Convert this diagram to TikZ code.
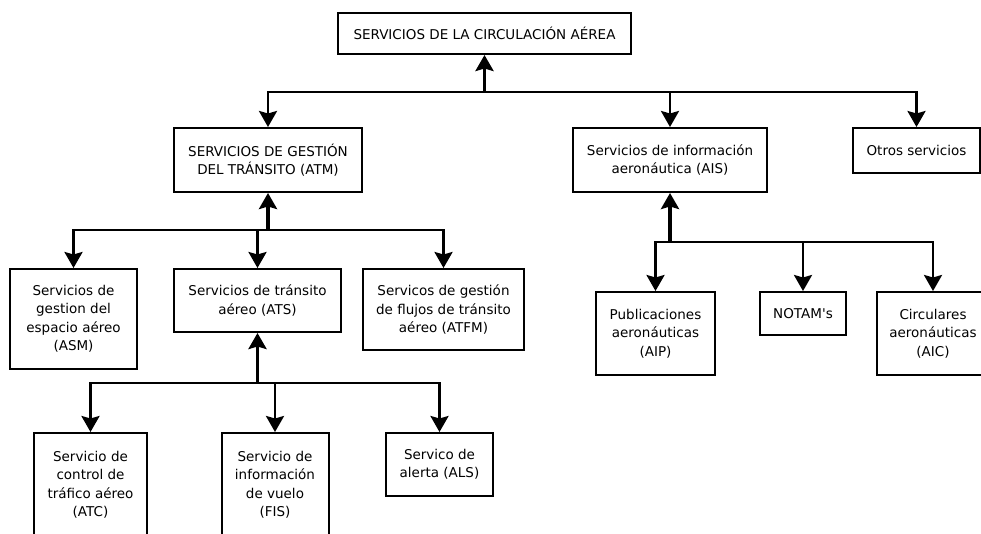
\documentclass[tikz,border=0pt]{standalone}
\usepackage{fontspec}
\setmainfont{DejaVu Sans}
\usepackage{tikz}
\usetikzlibrary{arrows.meta}

\begin{document}
\begin{tikzpicture}[x=1pt, y=-1pt,
    box/.style={draw, rectangle, line width=2pt, inner sep=0pt, align=center,
        font=\fontsize{13.5}{18.5}\selectfont},
    uparrow/.style={line width=3.5pt, -{Stealth[length=16pt, width=18pt, inset=2.5pt]}},
    downarrow/.style={line width=2.7pt, -{Stealth[length=16pt, width=18pt, inset=2.5pt]}}]
    \useasboundingbox (0,0) rectangle (981,533);
    \clip (0,0) rectangle (981,533);

    \node[box, minimum width=293pt, minimum height=41pt] (SCA) at (484.5,33.5) {SERVICIOS DE LA CIRCULACIÓN AÉREA};

    \node[box, minimum width=188pt, minimum height=64pt] (ATM) at (268,160) {SERVICIOS DE GESTIÓN\\DEL TRÁNSITO (ATM)};
    \node[box, minimum width=194pt, minimum height=64pt] (AIS) at (670,160) {Servicios de información\\aeronáutica (AIS)};
    \node[box, minimum width=127pt, minimum height=45pt] (OTR) at (916.5,150.5) {Otros servicios};

    \node[box, minimum width=127pt, minimum height=100pt] (ASM) at (73.5,319) {Servicios de\\gestion del\\espacio aéreo\\(ASM)};
    \node[box, minimum width=167pt, minimum height=63pt] (ATS) at (257.5,300.5) {Servicios de tránsito\\aéreo (ATS)};
    \node[box, minimum width=161pt, minimum height=81pt] (ATFM) at (443.5,309.5) {Servicos de gestión\\de flujos de tránsito\\aéreo (ATFM)};

    \node[box, minimum width=119pt, minimum height=83pt] (AIP) at (655.5,333.5) {Publicaciones\\aeronáuticas\\(AIP)};
    \node[box, minimum width=86pt, minimum height=43pt] (NOTAM) at (803,313.5) {NOTAM\textquotesingle s};
    \node[box, minimum width=112pt, minimum height=83pt] (AIC) at (933,333.5) {Circulares\\aeronáuticas\\(AIC)};

    \node[box, minimum width=113pt, minimum height=104pt] (ATC) at (90.5,485) {Servicio de\\control de\\tráfico aéreo\\(ATC)};
    \node[box, minimum width=107pt, minimum height=104pt] (FIS) at (275,485) {Servicio de\\información\\de vuelo\\(FIS)};
    \node[box, minimum width=107pt, minimum height=63pt] (ALS) at (439.5,464.5) {Servico de\\alerta (ALS)};

    % branch points
    \coordinate (bus0) at (484.5,92);
    \coordinate (bus1) at (268,230);
    \coordinate (bus2) at (257.5,383);
    \coordinate (bus3) at (670,242);

    \draw[uparrow] (bus0) -- (SCA.south);
    \draw[downarrow] (bus0) -| (ATM.north);
    \draw[downarrow] (bus0) -| (AIS.north);
    \draw[downarrow] (bus0) -| (OTR.north);

    \draw[uparrow] (bus1) -- (ATM.south);
    \draw[downarrow] (bus1) -| (ASM.north);
    \draw[downarrow] (bus1) -| (ATS.north);
    \draw[downarrow] (bus1) -| (ATFM.north);

    \draw[uparrow] (bus2) -- (ATS.south);
    \draw[downarrow] (bus2) -| (ATC.north);
    \draw[downarrow] (bus2) -| (FIS.north);
    \draw[downarrow] (bus2) -| (ALS.north);

    \draw[uparrow] (bus3) -- (AIS.south);
    \draw[downarrow] (bus3) -| (AIP.north);
    \draw[downarrow] (bus3) -| (NOTAM.north);
    \draw[downarrow] (bus3) -| (AIC.north);
\end{tikzpicture}
\end{document}
